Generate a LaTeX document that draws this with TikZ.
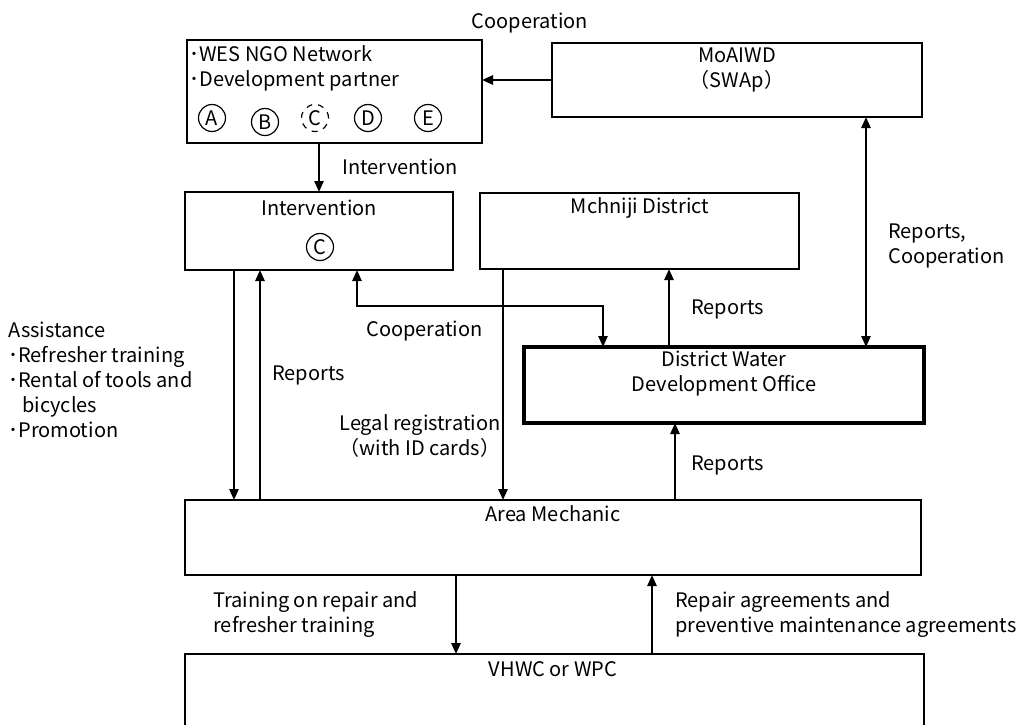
\documentclass[tikz,border=0pt]{standalone}
\usepackage{fontspec}
\setmainfont{Noto Sans CJK JP}
\usetikzlibrary{arrows.meta}

\begin{document}
\begin{tikzpicture}[
    x = 0.5pt, y = -0.5pt,
    every node/.style = { font = \fontsize{10}{12.5}\selectfont },
    box/.style = { rectangle, draw, anchor = north west, inner sep = 0pt,
      outer sep = 0pt, line width = 0.65pt },
    tag/.style = { circle, draw, minimum size = 13.5pt, inner sep = 0pt,
      line width = 0.6pt },
    flow/.style = { line width = 1pt, -{Triangle[length = 5.5pt, width = 4.6pt]} },
    twoway/.style = { line width = 1pt,
      {Triangle[length = 5.5pt, width = 4.6pt]}-{Triangle[length = 5.5pt, width = 4.6pt]} },
    note/.style = { anchor = west, align = left, inner sep = 0pt }
  ]
  \useasboundingbox (0,0) rectangle (1023,724);
  \clip (0,0) rectangle (1023,724);

  % organisations
  \node (ngo) [box, minimum width = 147.5pt, minimum height = 51.5pt] at (187,40) {};
  \node (moaiwd) [box, minimum width = 185pt, minimum height = 37pt] at (552,43) {};
  \node (intervention) [box, minimum width = 134pt, minimum height = 39pt] at (185,192) {};
  \node (mchinji) [box, minimum width = 159.5pt, minimum height = 38pt] at (480,193) {};
  \node (dwdo) [box, line width = 1.6pt, minimum width = 200pt, minimum height = 38pt] at (524,347) {};
  \node (mechanic) [box, minimum width = 368pt, minimum height = 37.5pt] at (185,500) {};
  \node (vhwc) [box, minimum width = 369.5pt, minimum height = 60pt] at (185,654) {};

  % names inside the boxes
  \node (ngo-name) [note] at (189,68) {･WES NGO Network\\･Development partner};
  \node (moaiwd-name) [align = center] at (737,70) {MoAIWD\\（SWAp）};
  \node (intervention-name) at (319,208) {Intervention};
  \node (mchinji-name) at (640,208) {Mchniji District};
  \node (dwdo-name) [align = center] at (724,374) {District Water\\Development Office};
  \node (mechanic-name) at (553,514) {Area Mechanic};
  \node (vhwc-name) at (553,669) {VHWC or WPC};

  \node (ngo-a) [tag] at (212,118) {A};
  \node (ngo-b) [tag] at (265,122) {B};
  \node (ngo-c) [tag, dashed] at (315,118) {C};
  \node (ngo-d) [tag] at (368,118) {D};
  \node (ngo-e) [tag] at (428,118) {E};
  \node (intervention-c) [tag] at (320,247) {C};

  % connectors
  \draw [flow] (moaiwd.west) -- (moaiwd.west -| ngo.east);
  \draw [flow] (ngo.south -| intervention.north) -- (intervention.north);
  \draw [twoway] ([xshift = 64.5pt] moaiwd.south) -- ([xshift = 71pt] dwdo.north);
  \draw [flow] ([xshift = -42.5pt] intervention.south) -- ([xshift = -159.5pt] mechanic.north);
  \draw [flow] ([xshift = -146.5pt] mechanic.north) -- ([xshift = -29.5pt] intervention.south);
  \draw [twoway] ([xshift = 19pt] intervention.south)
    |- ([xshift = -60.5pt, yshift = 20.5pt] dwdo.north)
    -- ([xshift = -60.5pt] dwdo.north);
  \draw [flow] ([xshift = -68.25pt] mchinji.south) -- ([xshift = -25pt] mechanic.north);
  \draw [flow] ([xshift = -27.5pt] dwdo.north) -- ([xshift = 14.75pt] mchinji.south);
  \draw [flow] ([xshift = 61pt] mechanic.north) -- ([xshift = -24.5pt] dwdo.south);
  \draw [flow] ([xshift = -48.5pt] mechanic.south) -- ([xshift = -49.25pt] vhwc.north);
  \draw [flow] ([xshift = 48.75pt] vhwc.north) -- ([xshift = 49.5pt] mechanic.south);

  % connector labels
  \node (coop-top) at (530,23) {Cooperation};
  \node (intervention-label) [note] at (342,167) {Intervention};
  \node (assistance) [note] at (8,380)
    {Assistance\\･Refresher training\\･Rental of tools and\\\hspace{7pt}bicycles\\･Promotion};
  \node (reports-left) [note] at (272,375) {Reports};
  \node (coop-mid) [note] at (366,331) {Cooperation};
  \node (registration) [align = center] at (420,436) {Legal registration\\（with ID cards）};
  \node (reports-district) [note] at (691,309) {Reports};
  \node (reports-office) [note] at (691,465) {Reports};
  \node (reports-ministry) [note] at (888,246) {Reports,\\Cooperation};
  \node (training) [note] at (213,615) {Training on repair and\\refresher training};
  \node (agreements) [note] at (675,615)
    {Repair agreements and\\preventive maintenance agreements};
\end{tikzpicture}
\end{document}
